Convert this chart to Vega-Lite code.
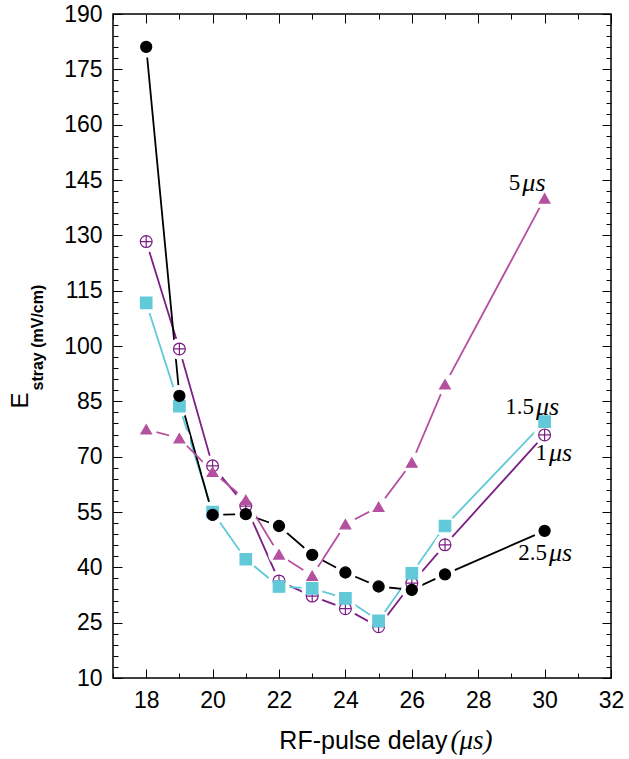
{
  "$schema": "https://vega.github.io/schema/vega-lite/v6.json",
  "width": 498,
  "height": 664,
  "autosize": {"type": "none"},
  "padding": {"left": 113, "top": 14, "right": 18, "bottom": 81},
  "background": "white",
  "config": {
    "view": {"stroke": "black", "strokeWidth": 1.5},
    "font": "Liberation Sans",
    "axis": {
      "domain": false,
      "grid": false,
      "tickColor": "black",
      "tickWidth": 1,
      "labelColor": "black",
      "titleColor": "black",
      "labelFont": "Liberation Sans",
      "titleFont": "Liberation Sans",
      "titleFontWeight": "normal",
      "labelFontSize": 23
    }
  },
  "datasets": {
    "pts": [
      {"series": "1μs", "x": 18, "y": 128.3}, {"series": "1μs", "x": 19, "y": 99.2}, {"series": "1μs", "x": 20, "y": 67.5}, {"series": "1μs", "x": 21, "y": 56.6}, {"series": "1μs", "x": 22, "y": 36.3}, {"series": "1μs", "x": 23, "y": 32.2}, {"series": "1μs", "x": 24, "y": 28.8}, {"series": "1μs", "x": 25, "y": 23.9}, {"series": "1μs", "x": 26, "y": 35.7}, {"series": "1μs", "x": 27, "y": 46.1}, {"series": "1μs", "x": 30, "y": 75.9},
      {"series": "1.5μs", "x": 18, "y": 111.7}, {"series": "1.5μs", "x": 19, "y": 83.7}, {"series": "1.5μs", "x": 20, "y": 55.0}, {"series": "1.5μs", "x": 21, "y": 42.2}, {"series": "1.5μs", "x": 22, "y": 34.8}, {"series": "1.5μs", "x": 23, "y": 34.3}, {"series": "1.5μs", "x": 24, "y": 31.6}, {"series": "1.5μs", "x": 25, "y": 25.5}, {"series": "1.5μs", "x": 26, "y": 38.4}, {"series": "1.5μs", "x": 27, "y": 51.2}, {"series": "1.5μs", "x": 30, "y": 79.5},
      {"series": "2.5μs", "x": 18, "y": 181.1}, {"series": "2.5μs", "x": 19, "y": 86.5}, {"series": "2.5μs", "x": 20, "y": 54.2}, {"series": "2.5μs", "x": 21, "y": 54.4}, {"series": "2.5μs", "x": 22, "y": 51.2}, {"series": "2.5μs", "x": 23, "y": 43.4}, {"series": "2.5μs", "x": 24, "y": 38.6}, {"series": "2.5μs", "x": 25, "y": 34.8}, {"series": "2.5μs", "x": 26, "y": 33.9}, {"series": "2.5μs", "x": 27, "y": 38.1}, {"series": "2.5μs", "x": 30, "y": 49.9},
      {"series": "5μs", "x": 18, "y": 77.4}, {"series": "5μs", "x": 19, "y": 75.0}, {"series": "5μs", "x": 20, "y": 65.9}, {"series": "5μs", "x": 21, "y": 58.3}, {"series": "5μs", "x": 22, "y": 43.5}, {"series": "5μs", "x": 23, "y": 37.7}, {"series": "5μs", "x": 24, "y": 51.7}, {"series": "5μs", "x": 25, "y": 56.4}, {"series": "5μs", "x": 26, "y": 68.4}, {"series": "5μs", "x": 27, "y": 89.6}, {"series": "5μs", "x": 30, "y": 140.0}
    ],
    "labels": [
      {"x": 29.3, "y": 144.2, "num": "5", "unit": "μs"},
      {"x": 29.71, "y": 83.5, "num": "1.5", "unit": "μs"},
      {"x": 30.1, "y": 71.0, "num": "1", "unit": "μs"},
      {"x": 30.1, "y": 43.9, "num": "2.5", "unit": "μs"}
    ]
  },
  "layer": [
    {
      "data": {"name": "pts"},
      "mark": {"type": "line", "strokeWidth": 1.8},
      "encoding": {
        "x": {"field": "x", "type": "quantitative", "scale": {"domain": [17, 32], "nice": false, "zero": false},
          "axis": {"orient": "bottom", "values": [17,18,19,20,21,22,23,24,25,26,27,28,29,30,31,32],
            "labelExpr": "datum.value % 2 == 0 ? datum.label : ''",
            "tickSize": {"condition": {"test": "datum.value % 2 == 0", "value": -9}, "value": -5},
            "labelPadding": 20, "labelFlush": false,
            "title": "RF-pulse delay", "titleFontSize": 25, "titleX": 334, "titleY": 70, "titleAlign": "right", "titleBaseline": "alphabetic"}},
        "y": {"field": "y", "type": "quantitative", "scale": {"domain": [10, 190], "nice": false, "zero": false},
          "axis": {"orient": "left", "values": [10,13,16,19,22,25,28,31,34,37,40,43,46,49,52,55,58,61,64,67,70,73,76,79,82,85,88,91,94,97,100,103,106,109,112,115,118,121,124,127,130,133,136,139,142,145,148,151,154,157,160,163,166,169,172,175,178,181,184,187,190],
            "labelExpr": "(datum.value - 10) % 15 == 0 ? datum.label : ''",
            "tickSize": {"condition": {"test": "(datum.value - 10) % 15 == 0", "value": -9}, "value": -5},
            "labelPadding": 20, "labelFlush": false,
            "title": "E", "titleFontSize": 24, "titleAngle": -90, "titleX": -86, "titleY": 394, "titleAlign": "left", "titleBaseline": "alphabetic"}},
        "color": {"field": "series", "type": "nominal", "legend": null,
          "scale": {"domain": ["1μs", "1.5μs", "2.5μs", "5μs"], "range": ["#7b1f84", "#62c9d9", "#000000", "#b5509f"]}}
      }
    },
    {
      "data": {"name": "pts"},
      "mark": {"type": "point", "shape": "circle", "filled": true, "color": "white", "size": 460, "opacity": 1},
      "encoding": {
        "x": {"field": "x", "type": "quantitative", "scale": {"domain": [17, 32], "nice": false, "zero": false},
          "axis": {"orient": "top", "values": [17,18,19,20,21,22,23,24,25,26,27,28,29,30,31,32], "labels": false, "title": null,
            "tickSize": {"condition": {"test": "datum.value % 2 == 0", "value": -9}, "value": -5}}},
        "y": {"field": "y", "type": "quantitative", "scale": {"domain": [10, 190], "nice": false, "zero": false},
          "axis": {"orient": "right", "values": [10,13,16,19,22,25,28,31,34,37,40,43,46,49,52,55,58,61,64,67,70,73,76,79,82,85,88,91,94,97,100,103,106,109,112,115,118,121,124,127,130,133,136,139,142,145,148,151,154,157,160,163,166,169,172,175,178,181,184,187,190], "labels": false, "title": null,
            "tickSize": {"condition": {"test": "(datum.value - 10) % 15 == 0", "value": -9}, "value": -5}}}
      }
    },
    {
      "data": {"name": "pts"},
      "mark": {"type": "point", "opacity": 1, "strokeWidth": 1.2},
      "encoding": {
        "x": {"field": "x", "type": "quantitative", "scale": {"domain": [17, 32], "nice": false, "zero": false},
          "axis": {"orient": "bottom", "labels": false, "ticks": false, "values": [], "title": "(μs)", "titleFont": "Liberation Serif", "titleFontStyle": "italic", "titleFontSize": 27, "titleX": 337, "titleY": 70, "titleAlign": "left", "titleBaseline": "alphabetic"}},
        "y": {"field": "y", "type": "quantitative", "scale": {"domain": [10, 190], "nice": false, "zero": false},
          "axis": {"orient": "left", "labels": false, "ticks": false, "values": [], "title": "stray (mV/cm)", "titleFontWeight": "bold", "titleFontSize": 16, "titleAngle": -90, "titleX": -71, "titleY": 376, "titleAlign": "left", "titleBaseline": "alphabetic"}},
        "shape": {"field": "series", "type": "nominal", "legend": null,
          "scale": {"domain": ["1μs", "1.5μs", "2.5μs", "5μs"], "range": ["M-1,0A1,1 0 1,1 1,0A1,1 0 1,1 -1,0ZM-1,0L1,0M0,-1L0,1", "square", "circle", "triangle-up"]}},
        "fill": {"field": "series", "type": "nominal", "legend": null,
          "scale": {"domain": ["1μs", "1.5μs", "2.5μs", "5μs"], "range": ["#ffffff", "#62c9d9", "#000000", "#b5509f"]}},
        "stroke": {"field": "series", "type": "nominal", "legend": null,
          "scale": {"domain": ["1μs", "1.5μs", "2.5μs", "5μs"], "range": ["#7b1f84", "#62c9d9", "#000000", "#b5509f"]}},
        "size": {"field": "series", "type": "nominal", "legend": null,
          "scale": {"domain": ["1μs", "1.5μs", "2.5μs", "5μs"], "range": [140, 115, 145, 160]}}
      }
    },
    {
      "data": {"name": "labels"},
      "mark": {"type": "text", "align": "right", "baseline": "middle", "font": "Liberation Serif", "fontSize": 23, "color": "black", "dx": -1},
      "encoding": {
        "x": {"field": "x", "type": "quantitative", "scale": {"domain": [17, 32], "nice": false, "zero": false}, "axis": null},
        "y": {"field": "y", "type": "quantitative", "scale": {"domain": [10, 190], "nice": false, "zero": false}, "axis": null},
        "text": {"field": "num"}
      }
    },
    {
      "data": {"name": "labels"},
      "mark": {"type": "text", "align": "left", "baseline": "middle", "font": "Liberation Serif", "fontStyle": "italic", "fontSize": 26, "color": "black", "dx": 1},
      "encoding": {
        "x": {"field": "x", "type": "quantitative", "scale": {"domain": [17, 32], "nice": false, "zero": false}, "axis": null},
        "y": {"field": "y", "type": "quantitative", "scale": {"domain": [10, 190], "nice": false, "zero": false}, "axis": null},
        "text": {"field": "unit"}
      }
    }
  ],
  "resolve": {"axis": {"x": "independent", "y": "independent"}}
}
